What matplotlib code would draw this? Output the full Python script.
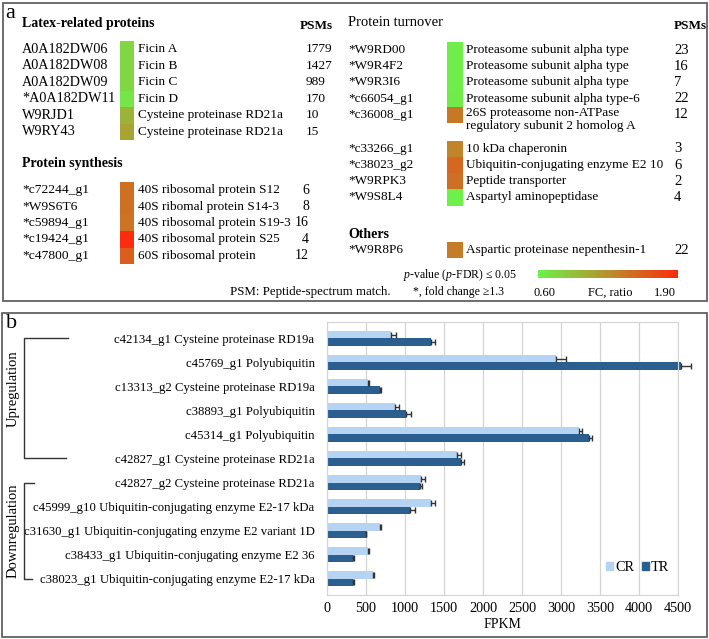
import matplotlib.pyplot as plt
import numpy as np
from matplotlib.colors import LinearSegmentedColormap, Normalize
from matplotlib.cm import ScalarMappable
from matplotlib.patches import Patch, Rectangle

plt.rcParams['font.family'] = ['Liberation Serif', 'DejaVu Serif']
plt.rcParams['mathtext.fontset'] = 'custom'
plt.rcParams['mathtext.rm'] = 'Liberation Serif'
plt.rcParams['mathtext.it'] = 'Liberation Serif:italic'

# ---- panel a data ----
latex_ids = ['A0A182DW06', 'A0A182DW08', 'A0A182DW09', '*A0A182DW11', 'W9RJD1', 'W9RY43']
latex_names = ['Ficin A', 'Ficin B', 'Ficin C', 'Ficin D',
               'Cysteine proteinase RD21a', 'Cysteine proteinase RD21a']
latex_psms = [1779, 1427, 989, 170, 10, 15]
latex_fc = [0.79, 0.79, 0.78, 0.69, 1.02, 1.12]

synth_ids = ['*c72244_g1', '*W9S6T6', '*c59894_g1', '*c19424_g1', '*c47800_g1']
synth_names = ['40S ribosomal protein S12', '40S ribomal protein S14-3',
               '40S ribosomal protein S19-3', '40S ribosomal protein S25', '60S ribosomal protein']
synth_psms = [6, 8, 16, 4, 12]
synth_fc = [1.45, 1.45, 1.43, 1.88, 1.56]

turn_ids = ['*W9RD00', '*W9R4F2', '*W9R3I6', '*c66054_g1', '*c36008_g1',
            '*c33266_g1', '*c38023_g2', '*W9RPK3', '*W9S8L4']
turn_names = ['Proteasome subunit alpha type', 'Proteasome subunit alpha type',
              'Proteasome subunit alpha type', 'Proteasome subunit alpha type-6',
              '26S proteasome non-ATPase\nregulatory subunit 2 homolog A',
              '10 kDa chaperonin', 'Ubiquitin-conjugating enzyme E2 10',
              'Peptide transporter', 'Aspartyl aminopeptidase']
turn_psms = [23, 16, 7, 22, 12, 3, 6, 2, 4]
turn_fc = [0.64, 0.64, 0.64, 0.65, 1.40, 1.33, 1.50, 1.45, 0.62]

other_ids = ['*W9R8P6']
other_names = ['Aspartic proteinase nepenthesin-1']
other_psms = [22]
other_fc = [1.38]

# ---- panel b data ----
genes = ['c42134_g1 Cysteine proteinase RD19a', 'c45769_g1 Polyubiquitin',
         'c13313_g2 Cysteine proteinase RD19a', 'c38893_g1 Polyubiquitin',
         'c45314_g1 Polyubiquitin', 'c42827_g1 Cysteine proteinase RD21a',
         'c42827_g2 Cysteine proteinase RD21a',
         'c45999_g10 Ubiquitin-conjugating enzyme E2-17 kDa',
         'c31630_g1 Ubiquitin-conjugating enzyme E2 variant 1D',
         'c38433_g1 Ubiquitin-conjugating enzyme E2 36',
         'c38023_g1 Ubiquitin-conjugating enzyme E2-17 kDa']
cr = [825, 2940, 530, 868, 3231, 1662, 1209, 1338, 675, 526, 590]
cr_err = [64, 128, 10, 55, 38, 55, 47, 43, 12, 10, 12]
tr = [1329, 4534, 679, 1017, 3359, 1714, 1188, 1064, 496, 333, 338]
tr_err = [60, 137, 10, 55, 43, 43, 30, 68, 8, 8, 8]

W, H = 709, 639
fig = plt.figure(figsize=(W / 100, H / 100), dpi=100)
can = fig.add_axes([0, 0, 1, 1])
can.set_xlim(0, W)
can.set_ylim(H, 0)
can.axis('off')

cmap = LinearSegmentedColormap.from_list('fc', ['#6cf24c', '#b8902c', '#ff2a0e'])
norm = Normalize(0.6, 1.9)
fs = 9.5

# borders
can.add_patch(Rectangle((3, 3), 704, 298, fill=False, ec='#555555', lw=1.2))
can.add_patch(Rectangle((2, 313), 705, 324, fill=False, ec='#555555', lw=1.2))
can.text(10, 14, 'a', fontsize=16, ha='center', va='center')
can.text(12, 324, 'b', fontsize=16, ha='center', va='center')


def section(ids, names, psms, fc, rows, x_id, x_cell, cw, x_name, x_psm, psm_ha,
            id_fs=fs, psm_fs=fs):
    can.barh(rows, [cw] * len(rows), left=x_cell, height=16.4, color=cmap(norm(fc)))
    for r, i, n, p in zip(rows, ids, names, psms):
        can.text(x_id, r, i, va='center', fontsize=id_fs)
        if '\n' in n:
            can.text(x_name, r - 8, n, va='top', fontsize=fs, linespacing=1.15)
        else:
            can.text(x_name, r, n, va='center', fontsize=fs)
        can.text(x_psm, r, str(p), va='center', ha=psm_ha, fontsize=psm_fs)


def header(x, y, s, size=10, weight='bold'):
    can.text(x, y, s, va='center', fontsize=size, fontweight=weight)


# left column
header(22, 24, 'Latex-related proteins')
header(300, 26, 'PSMs', size=9.5)
section(latex_ids, latex_names, latex_psms, latex_fc,
        49.3 + 16.5 * np.arange(len(latex_ids)), 22, 120, 14, 138, 306, 'left',
        id_fs=10.2, psm_fs=9.6)
header(22, 163, 'Protein synthesis')
section(synth_ids, synth_names, synth_psms, synth_fc,
        190.2 + 16.4 * np.arange(len(synth_ids)), 22, 120, 14, 138, 309, 'right',
        id_fs=9.7, psm_fs=10)

# right column
header(348, 23, 'Protein turnover', size=10.5, weight='normal')
header(674, 26, 'PSMs', size=9.5)
slots = np.array([0, 1, 2, 3, 4, 6.1, 7.1, 8.1, 9.1])
section(turn_ids, turn_names, turn_psms, turn_fc,
        50 + 16.2 * slots, 348, 447, 16, 466, 674, 'left', psm_fs=10.5)
header(348, 235, 'Others')
section(other_ids, other_names, other_psms, other_fc,
        [250], 348, 447, 16, 466, 674, 'left', psm_fs=10.5)

can.text(230, 292, 'PSM: Peptide-spectrum match.', va='center', fontsize=9.3)
can.text(403, 275, r'$p$-value ($p$-FDR) ≤ 0.05', va='center', fontsize=8.5)
can.text(413, 292, '*, fold change ≥1.3', va='center', fontsize=8.5)

cax = fig.add_axes([538 / W, 1 - 278 / H, 140 / W, 8 / H])
fig.colorbar(ScalarMappable(norm=norm, cmap=cmap), cax=cax, orientation='horizontal')
cax.axis('off')
can.text(544, 293, '0.60', ha='center', va='center', fontsize=9)
can.text(610, 293, 'FC, ratio', ha='center', va='center', fontsize=9)
can.text(665, 293, '1.90', ha='center', va='center', fontsize=9)

# ---- panel b ----
ax = fig.add_axes([327 / W, 1 - 595 / H, 351 / W, 273 / H])
n = len(genes)
y = np.arange(n)
h = 0.31
ekw = dict(ecolor='#333333', elinewidth=1, capsize=2.5, capthick=1)
ax.barh(y - h / 2, cr, height=h, color='#b5d3f3', label='CR',
        xerr=[np.zeros(n), cr_err], error_kw=ekw)
ax.barh(y + h / 2, tr, height=h, color='#2a5f8f', label='TR',
        xerr=[np.zeros(n), tr_err], error_kw=ekw)
for art in ax.patches + ax.lines + ax.collections:
    art.set_clip_on(False)
ax.set_xlim(0, 4500)
ax.set_ylim(n - 1 + 0.68, -0.68)
ax.set_xticks(np.arange(0, 4501, 500))
ax.set_yticks(y, genes)
ax.grid(axis='x', color='#d4d4d4', lw=0.9)
ax.set_axisbelow(True)
for s in ax.spines.values():
    s.set_color('#d4d4d4')
ax.tick_params(length=0)
ax.tick_params(axis='y', pad=9, labelsize=9.2)
ax.tick_params(axis='x', pad=5, labelsize=10.3)
ax.set_xlabel('FPKM', fontsize=10, labelpad=2)
ax.legend(handles=[Patch(color='#b5d3f3', label='CR'), Patch(color='#2a5f8f', label='TR')],
          loc='center right', bbox_to_anchor=(0.975, 0.1), ncol=2, frameon=False,
          fontsize=10.3, handlelength=0.5, handleheight=0.5, handletextpad=0.15,
          columnspacing=0.5, borderpad=0, borderaxespad=0)

# brackets
tr_y = ax.get_yaxis_transform()
fx = lambda px: (px - 327) / 351
for y0, y1, xt, x2, lab, ymid in [(0, 5, 68, 66, 'Upregulation', 2.1),
                                  (6, 10, 34, 32, 'Downregulation', 8.0)]:
    ax.plot([fx(xt), fx(24), fx(24), fx(x2)], [y0, y0, y1, y1], color='#333333',
            lw=1, transform=tr_y, clip_on=False)
    ax.text(fx(13), ymid, lab, rotation=90, ha='center', va='center',
            fontsize=10.5, transform=tr_y)

fig.savefig('out.png', dpi=100)
